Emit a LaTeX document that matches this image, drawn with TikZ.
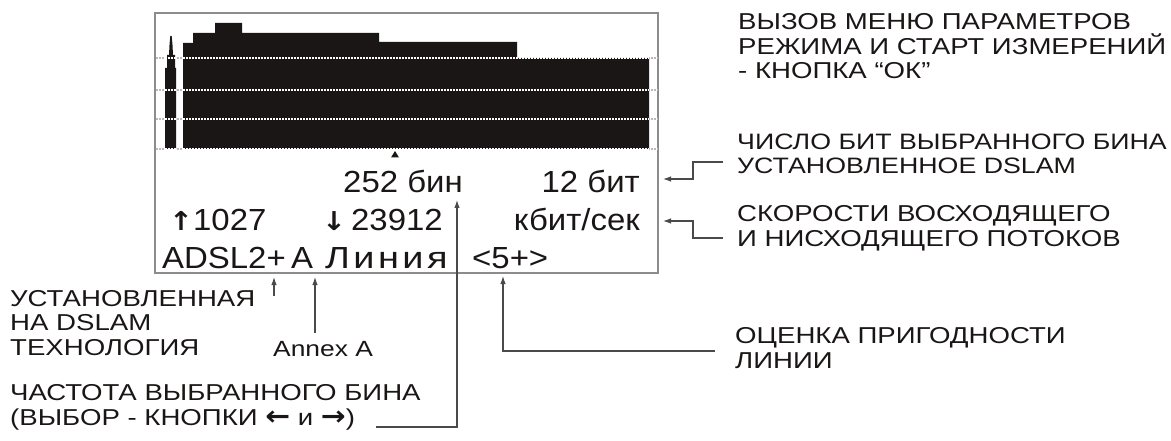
\documentclass[tikz,border=0pt]{standalone}
\usepackage{fontspec}
\usepackage{graphicx}
\setmainfont{Liberation Sans}[FakeStretch=1.2]
\newfontfamily\bigf{Liberation Sans}[FakeStretch=1.08]
\newfontfamily\arrf{DejaVu Sans}[FakeStretch=1.1]
\usetikzlibrary{arrows.meta}
\definecolor{ink}{HTML}{1A1616}
\definecolor{wire}{HTML}{4A4A4A}
\definecolor{frame}{HTML}{8C8C8C}
\tikzset{
  lbl/.style={inner sep=0pt, anchor=base west, text=ink, font=\fontsize{23}{24.5}\selectfont, align=left},
  scr/.style={inner sep=0pt, text=ink, font=\bigf\fontsize{30.5}{34}\selectfont},
  conn/.style={draw=wire, line width=1.1pt, -{Latex[length=8pt,width=5.5pt]}},
  dots/.style={line width=1.8pt, dash pattern=on 1.5pt off 1.5pt},
}
\begin{document}
\begin{tikzpicture}[x=1pt,y=-1pt]
\useasboundingbox (0,0) rectangle (1171,441);
% screen frame
\draw[frame, line width=1.5pt] (155,13) rectangle (658,273);
% grey dotted gridlines
\foreach \yy in {58,90,119,149} \draw[dots, gray!55] (156,\yy) -- (658,\yy);
% spectrum bars
\path[fill=ink] (165,149) -- (165,68) -- (167,68) -- (167,55) -- (169,55) -- (169.5,45) -- (170.3,36) -- (171.7,36) -- (172.5,45) -- (173,55) -- (175,55) -- (175,68) -- (176,68) -- (176,149) -- cycle;
\path[fill=ink] (183,149) -- (183,43) -- (193,43) -- (193,33) -- (215,33) -- (215,23) -- (242,23) -- (242,33) -- (379,33) -- (379,42) -- (517,42) -- (517,58) -- (649,58) -- (649,149) -- cycle;
\begin{scope}
  \clip (165,151) -- (165,36) -- (176,36) -- (176,151) -- cycle (183,151) -- (183,43) -- (193,43) -- (193,33) -- (215,33) -- (215,23) -- (242,23) -- (242,33) -- (379,33) -- (379,42) -- (517,42) -- (517,57) -- (649,57) -- (649,151) -- cycle;
  \foreach \yy in {58,90,119,149} \draw[dots, white] (156,\yy) -- (658,\yy);
\end{scope}
% marker
\path[fill=ink] (391,157.5) -- (395,151) -- (399,157.5) -- cycle;
% screen texts
\node[scr, anchor=base west] (bin) at (343,193) {252 бин};
\node[scr, anchor=base east] (bits) at (640,193) {12 бит};
\node[scr, anchor=base west] (up) at (169,230) {{\arrf\bfseries\fontsize{26}{30}\selectfont ↑}1027};
\node[scr, anchor=base west] (down) at (322,230) {{\arrf\bfseries\fontsize{26}{30}\selectfont ↓}\hspace{5pt}23912};
\node[scr, anchor=base east] (rate) at (640,230) {кбит/сек};
\node[scr, anchor=base west] (tech) at (162,268) {ADSL2+};
\node[scr, anchor=base west] (annex) at (291,268) {A};
\node[scr, anchor=base west] (line) at (325,268) {\scalebox{1.15}[1]{Л\kern3pt и\kern3pt н\kern3pt и\kern3pt я}};
\node[scr, anchor=base west] (grade) at (472,268) {<5+>};
% annotation texts (anchor = baseline of last line)
\node[lbl] (menuT) at (738,79) {ВЫЗОВ МЕНЮ ПАРАМЕТРОВ\\РЕЖИМА И СТАРТ ИЗМЕРЕНИЙ\\- КНОПКА “ОК”};
\node[lbl, font=\fontsize{22.3}{24.5}\selectfont] (bitsT) at (737,174) {ЧИСЛО БИТ ВЫБРАННОГО БИНА\\УСТАНОВЛЕННОЕ DSLAM};
\node[lbl] (rateT) at (737,246) {СКОРОСТИ ВОСХОДЯЩЕГО\\И НИСХОДЯЩЕГО ПОТОКОВ};
\node[lbl] (gradeT) at (735,368) {ОЦЕНКА ПРИГОДНОСТИ\\ЛИНИИ};
\node[lbl] (techT) at (10,355) {УСТАНОВЛЕННАЯ\\НА DSLAM\\ТЕХНОЛОГИЯ};
\node[lbl, font=\fontsize{22}{24.5}\selectfont] (annexT) at (273,356) {Annex A};
\node[lbl] (freqT) at (10,425) {ЧАСТОТА ВЫБРАННОГО БИНА\\(ВЫБОР - КНОПКИ {\arrf\bfseries\fontsize{27}{24}\selectfont ←} и {\arrf\bfseries\fontsize{27}{24}\selectfont →})};
% connector ends
\coordinate (bitsS) at (723,162);
\coordinate (bitsE) at (663,179);
\coordinate (rateS) at (723,238);
\coordinate (rateE) at (663,221);
\coordinate (freqS) at (376,427);
\coordinate (freqE) at (457,200);
\coordinate (gradeS) at (715,351);
\coordinate (gradeE) at (503,276);
\coordinate (techS) at (274,296);
\coordinate (techE) at (274,277);
\coordinate (annexS) at (315,333);
\coordinate (annexE) at (315,277);
% connectors
\draw[conn] (bitsS) -- (693,162) |- (bitsE);
\draw[conn] (rateS) -- (693,238) |- (rateE);
\draw[conn] (freqS) -| (freqE);
\draw[conn] (gradeS) -| (gradeE);
\draw[conn] (techS) -- (techE);
\draw[conn] (annexS) -- (annexE);
\end{tikzpicture}
\end{document}
